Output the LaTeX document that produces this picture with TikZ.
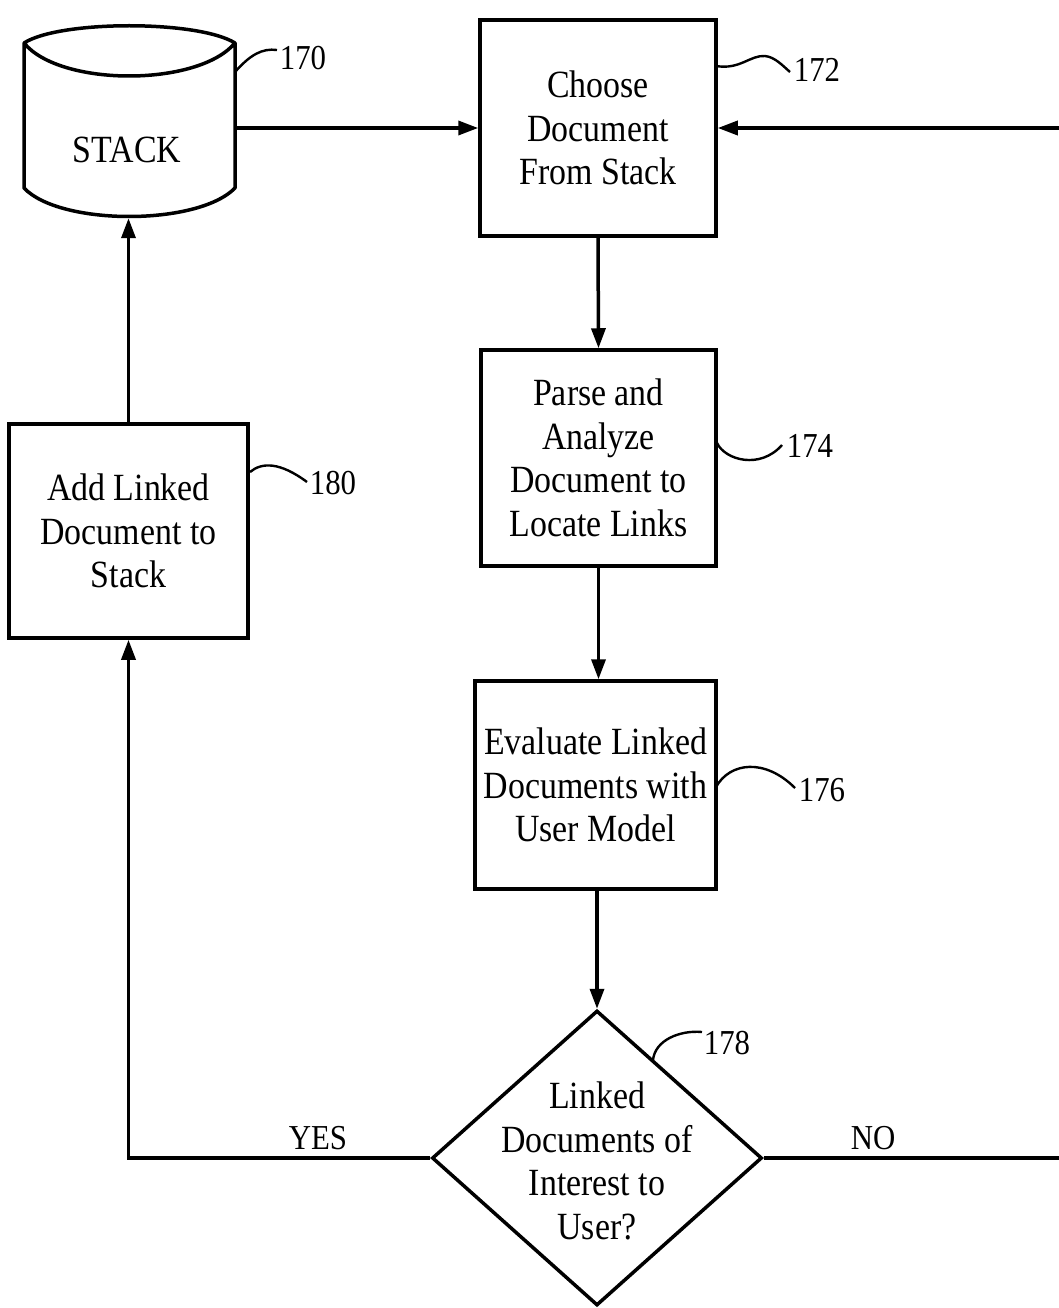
\documentclass[tikz,border=0pt]{standalone}
\usepackage{fontspec}
\setmainfont{Liberation Serif}[FakeStretch=0.88]
\usetikzlibrary{arrows.meta,shapes.geometric}
\tikzset{
  ln/.style={line width=3.5pt},
  arr/.style={ln,-{Triangle[length=20pt,width=14pt]}},
  box/.style={draw,ln,rectangle,inner sep=0pt,align=center,font=\fontsize{38.5}{43.5}\selectfont},
  txt/.style={align=center,inner sep=0pt,font=\fontsize{38.5}{43.5}\selectfont},
  lbl/.style={inner sep=0pt,font=\fontsize{35}{40}\selectfont},
  sq/.style={line width=2.4pt}
}
\begin{document}
\begin{tikzpicture}[x=1pt,y=-1pt]
\useasboundingbox[fill=white] (0,0) rectangle (1058,1308);
% stack cylinder
\node[inner sep=0pt,minimum width=211pt,minimum height=203pt] (stack) at (129.5,116.5) {};
\draw[ln,line join=round] (24,43) .. controls (60,20) and (198,20) .. (235,43)
  .. controls (198,87) and (60,87) .. (24,43) -- (24,188)
  .. controls (60,226) and (198,226) .. (235,188) -- (235,43);
\node[txt] at (127,150) {STACK};
% boxes
\node[box,minimum width=236pt,minimum height=216pt] (b172) at (598,128) {Choose\\Document\\From Stack};
\node[box,minimum width=235pt,minimum height=216pt] (b174) at (598.5,458) {Parse and\\Analyze\\Document to\\Locate Links};
\node[box,minimum width=241pt,minimum height=208pt] (b176) at (595.5,785) {Evaluate Linked\\Documents with\\User Model};
\node[box,minimum width=239pt,minimum height=214pt] (b180) at (128.5,531) {Add Linked\\Document to\\Stack};
\node[draw,ln,diamond,inner sep=0pt,minimum width=330pt,minimum height=295pt] (dec) at (597,1158) {};
\node[txt] at (597,1161) {Linked\\Documents of\\Interest to\\User?};
% connectors
\coordinate (rt) at (1070,1158);
\coordinate (rtop) at (1070,128);
\draw[arr] (stack.east |- b172.west) -- (b172.west);
\draw[arr] (b172.south) -- (b174.north);
\draw[arr] (b174.south) -- (b174.south |- b176.north);
\draw[arr] (b176.south -| dec.north) -- (dec.north);
\draw[arr] (dec.west) -| (b180.south);
\draw[arr] (b180.north) -- (b180.north |- stack.south);
\draw[arr] (dec.east) -- (rt) -- (rtop) -- (b172.east);
\node[lbl] at (318,1138) {YES};
\node[lbl] at (873,1138) {NO};
% reference labels
\draw[sq] (235,72) .. controls (250,55) and (262,48) .. (277,50);
\node[lbl] at (303,58) {170};
\draw[sq] (716,66) .. controls (740,70) and (750,55) .. (765,56) .. controls (775,57) and (783,66) .. (790,72);
\node[lbl] at (817,70) {172};
\draw[sq] (717,443) .. controls (725,460) and (760,470) .. (782,445);
\node[lbl] at (810,446) {174};
\draw[sq] (716,787) .. controls (730,762) and (765,758) .. (795,788);
\node[lbl] at (822,790) {176};
\draw[sq] (653,1060) .. controls (655,1040) and (680,1030) .. (702,1032);
\node[lbl] at (727,1043) {178};
\draw[sq] (250,472) .. controls (262,462) and (280,462) .. (307,482);
\node[lbl] at (333,483) {180};
\end{tikzpicture}
\end{document}
